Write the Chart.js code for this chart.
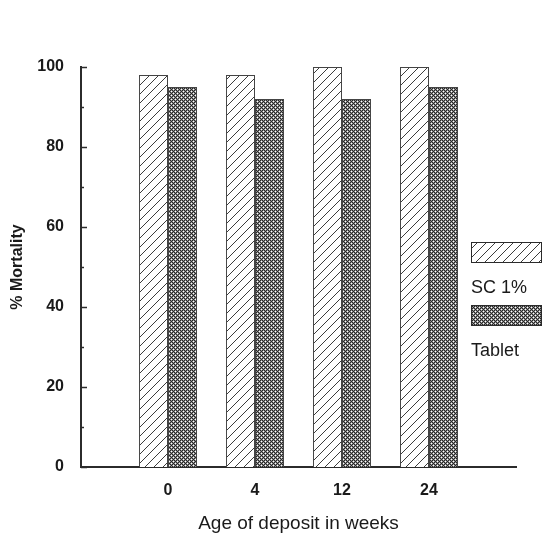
<!DOCTYPE html>
<html>
<head>
<meta charset="utf-8">
<script src="https://cdn.jsdelivr.net/npm/chart.js@4/dist/chart.umd.min.js"></script>
<style>
    html, body { margin: 0; padding: 0; background: #fff; }
    canvas { display: block; }
</style>
</head>
<body>
<canvas id="myChart" width="542" height="537"></canvas>
<script>
// mortality (%) by age of deposit
const weeks = ['0', '4', '12', '24'];
const sc1 = [98, 98, 100, 100];
const tablet = [95, 92, 92, 95];
const seriesNames = ['SC 1%', 'Tablet'];

const ink = '#2b2b2b';
const family = '"Liberation Sans", Arial, sans-serif';

// diagonal hatch fill
function hatchPattern() {
    const n = 9;
    const c = document.createElement('canvas');
    c.width = n; c.height = n;
    const g = c.getContext('2d');
    g.fillStyle = '#fff';
    g.fillRect(0, 0, n, n);
    g.strokeStyle = '#3c3c3c';
    g.lineWidth = 1;
    g.beginPath();
    g.moveTo(0, n); g.lineTo(n, 0);
    g.moveTo(-1, 1); g.lineTo(1, -1);
    g.moveTo(n - 1, n + 1); g.lineTo(n + 1, n - 1);
    g.stroke();
    return g.createPattern(c, 'repeat');
}

// dense cross-hatch fill: dark lattice with small white holes
function crossPattern() {
    const c = document.createElement('canvas');
    c.width = 4; c.height = 4;
    const g = c.getContext('2d');
    g.fillStyle = '#262626';
    g.fillRect(0, 0, 4, 4);
    g.fillStyle = '#8e8e8e';
    [[0, 1], [2, 1], [1, 0], [1, 2], [2, 3], [0, 3], [3, 2], [3, 0]].forEach(p => g.fillRect(p[0], p[1], 1, 1));
    g.fillStyle = '#fff';
    g.fillRect(1, 1, 1, 1);
    g.fillRect(3, 3, 1, 1);
    return g.createPattern(c, 'repeat');
}

const ctx = document.getElementById('myChart');

// short tick marks pointing into the plot, every 10 units
const innerTicks = {
    id: 'innerTicks',
    afterDraw(chart) {
        const y = chart.scales.y;
        const left = chart.chartArea.left;
        const g = chart.ctx;
        g.save();
        g.strokeStyle = ink;
        g.lineWidth = 1.5;
        for (let v = 0; v <= 100; v += 10) {
            const py = Math.round(y.getPixelForValue(v)) + 0.5;
            const len = v % 20 === 0 ? 6 : 3;
            g.beginPath();
            g.moveTo(left, py);
            g.lineTo(left + len, py);
            g.stroke();
        }
        g.restore();
    }
};

// legend: swatch with its label underneath
const stackedLegend = {
    id: 'stackedLegend',
    afterDraw(chart) {
        const g = chart.ctx;
        g.save();
        chart.data.datasets.forEach((ds, i) => {
            const bx = 471.5, by = 242.5 + i * 63;
            g.fillStyle = ds.backgroundColor;
            g.fillRect(bx, by, 70, 20);
            g.strokeStyle = ink;
            g.lineWidth = 1;
            g.strokeRect(bx, by, 70, 20);
            g.fillStyle = '#1a1a1a';
            g.font = '18px ' + family;
            g.textBaseline = 'alphabetic';
            g.fillText(ds.label, 471, by + 50);
        });
        g.restore();
    }
};

new Chart(ctx, {
    type: 'bar',
    data: {
        datasets: [{
            label: seriesNames[0],
            data: weeks.map((w, i) => ({ x: i + 1, y: sc1[i] })),
            backgroundColor: hatchPattern(),
            borderColor: '#444',
            borderWidth: 1
        }, {
            label: seriesNames[1],
            data: weeks.map((w, i) => ({ x: i + 1, y: tablet[i] })),
            backgroundColor: crossPattern(),
            borderColor: '#444',
            borderWidth: 1
        }]
    },
    options: {
        responsive: false,
        animation: false,
        categoryPercentage: 0.667,
        barPercentage: 1,
        layout: {
            padding: { left: 0, right: 26, top: 67, bottom: 0 }
        },
        plugins: {
            legend: { display: false },
            tooltip: { enabled: false }
        },
        scales: {
            x: {
                type: 'linear',
                offset: false,
                min: 0,
                max: weeks.length + 1,
                afterFit: s => { s.height = 70; },
                grid: { display: false },
                border: { display: true, color: ink, width: 2 },
                ticks: {
                    stepSize: 1,
                    padding: 6,
                    color: '#1a1a1a',
                    font: { family: family, size: 16, weight: 'bold' },
                    callback: v => (Number.isInteger(v) && v >= 1 && v <= weeks.length) ? weeks[v - 1] : ''
                },
                title: {
                    display: true,
                    text: 'Age of deposit in weeks',
                    color: '#1a1a1a',
                    padding: { top: 0, bottom: 2 },
                    font: { family: family, size: 19 }
                }
            },
            y: {
                min: 0,
                max: 100,
                afterFit: s => { s.width = 81; },
                grid: { display: false },
                border: { display: true, color: ink, width: 2 },
                ticks: {
                    stepSize: 20,
                    padding: 9,
                    color: '#1a1a1a',
                    font: { family: family, size: 16, weight: 'bold' }
                },
                title: {
                    display: true,
                    text: '% Mortality',
                    color: '#1a1a1a',
                    padding: { top: 8, bottom: 0 },
                    font: { family: family, size: 16, weight: 'bold' }
                }
            }
        }
    },
    plugins: [innerTicks, stackedLegend]
});
</script>
</body>
</html>
